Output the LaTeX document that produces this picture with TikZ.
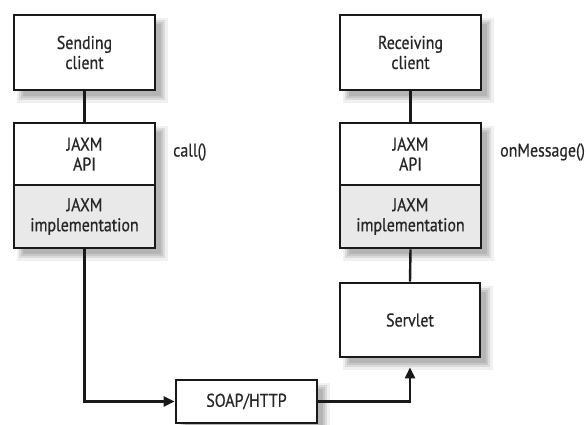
\documentclass[tikz,border=0pt]{standalone}
\usepackage{fontspec}
\setmainfont[FakeStretch=0.86,FakeBold=0.6]{PT Sans}
\usetikzlibrary{arrows.meta}
\definecolor{txt}{HTML}{262626}
\definecolor{implfill}{HTML}{E9E9E9}
\tikzset{
  box/.style={draw=black!90, line width=2.6pt, fill=white, align=center, text=txt,
    minimum width=141pt, inner sep=0pt,
    font=\fontsize{18.5}{20}\selectfont},
  impl/.style={box, fill=implfill},
  lbl/.style={text=txt, font=\fontsize{18.5}{20}\selectfont, inner sep=0pt, anchor=west},
  conn/.style={line width=2.4pt, draw=black!90},
  arr/.style={conn, -{Triangle[length=11pt,width=10pt]}},
  shadA/.style={fill=gray!12},
  shadB/.style={fill=gray!28},
  shadC/.style={fill=gray!44},
  shadD/.style={fill=gray!58}
}
\begin{document}
\begin{tikzpicture}[x=1pt,y=-1pt]
\useasboundingbox (0,0) rectangle (586,425);
% soft drop shadows (layered greys)
\path[shadA] (17,18) rectangle (168,103);
\path[shadA] (17,126) rectangle (168,261);
\path[shadA] (343,18) rectangle (494,103);
\path[shadA] (343,126) rectangle (494,261);
\path[shadA] (343,286) rectangle (493,370);
\path[shadA] (179,383) rectangle (330,436);
\path[shadB] (19,20) rectangle (165,100);
\path[shadB] (19,128) rectangle (165,258);
\path[shadB] (345,20) rectangle (491,100);
\path[shadB] (345,128) rectangle (491,258);
\path[shadB] (345,288) rectangle (490,367);
\path[shadB] (181,385) rectangle (327,433);
\path[shadC] (21,22) rectangle (163,98);
\path[shadC] (21,130) rectangle (163,256);
\path[shadC] (347,22) rectangle (489,98);
\path[shadC] (347,130) rectangle (489,256);
\path[shadC] (347,290) rectangle (488,365);
\path[shadC] (183,387) rectangle (325,431);
\path[shadD] (23,24) rectangle (161,96);
\path[shadD] (23,132) rectangle (161,254);
\path[shadD] (349,24) rectangle (487,96);
\path[shadD] (349,132) rectangle (487,254);
\path[shadD] (349,292) rectangle (486,363);
\path[shadD] (185,389) rectangle (323,429);
\node[box, minimum height=75pt] (send) at (84.5,52.5) {Sending\\client};
\node[box, minimum height=62pt] (sapi) at (84.5,154) {JAXM\\API};
\node[impl, minimum height=63pt] (simpl) at (84.5,216.5) {JAXM\\implementation};
\node[box, minimum height=75pt] (recv) at (410.5,52.5) {Receiving\\client};
\node[box, minimum height=62pt] (rapi) at (410.5,154) {JAXM\\API};
\node[impl, minimum height=63pt] (rimpl) at (410.5,216.5) {JAXM\\implementation};
\node[box, minimum width=140pt, minimum height=74pt] (servlet) at (410,320) {Servlet};
\node[box, minimum height=43pt] (soap) at (246.5,401.5) {SOAP/HTTP};
\node[lbl] (call) at (173,152) {call()};
\node[lbl] (onmsg) at (500,152) {onMessage()};
\draw[conn] (send.south) -- (sapi.north);
\draw[conn] (recv.south) -- (rapi.north);
\draw[conn] (rimpl.south) -- (servlet.north);
\draw[arr] (simpl.south) |- (soap.west);
\draw[arr, shorten >=9pt] (soap.east) -| (servlet.south);
\end{tikzpicture}
\end{document}
